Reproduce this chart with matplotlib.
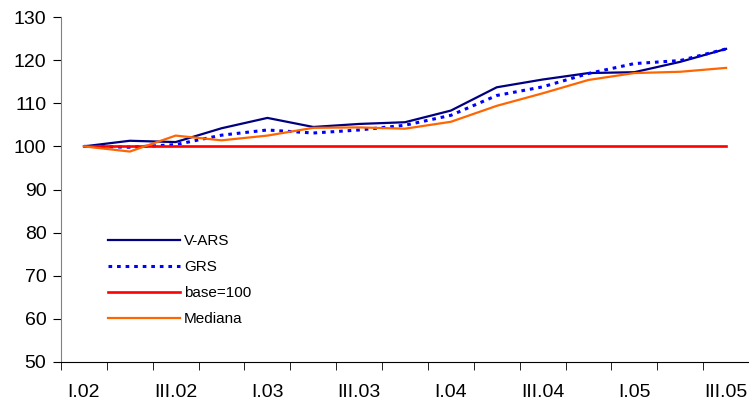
import matplotlib.pyplot as plt
import numpy as np

plt.rcParams['font.family'] = ['Liberation Sans', 'DejaVu Sans']

quarters = ['I.02', 'II.02', 'III.02', 'IV.02', 'I.03', 'II.03', 'III.03', 'IV.03',
            'I.04', 'II.04', 'III.04', 'IV.04', 'I.05', 'II.05', 'III.05']
v_ars = [100, 101.3, 101.0, 104.2, 106.6, 104.5, 105.2, 105.6,
         108.3, 113.7, 115.5, 117.0, 117.2, 119.6, 122.6]
grs = [100, 99.8, 100.4, 102.6, 103.8, 103.1, 103.8, 104.9,
       107.2, 111.8, 113.8, 116.9, 119.2, 119.9, 122.6]
base = [100] * 15
mediana = [100, 98.8, 102.5, 101.4, 102.5, 104.3, 104.4, 104.1,
           105.7, 109.4, 112.3, 115.4, 117.0, 117.3, 118.2]

fig = plt.figure(figsize=(7.49, 4.05), dpi=100)
ax = fig.add_axes([61/749, 43/405, 688/749, 345/405])

x = np.arange(len(quarters))
ax.plot(x, v_ars, color='#000080', lw=1.6, label='V-ARS')
ax.plot(x, grs, color='#0000FF', lw=2.2, ls=(0, (1.2, 1.6)), label='GRS')
ax.plot(x, base, color='#FF0000', lw=1.9, label='base=100')
ax.plot(x, mediana, color='#FF6600', lw=1.6, label='Mediana')

ax.set_xlim(-0.5, len(quarters) - 0.5)
ax.set_ylim(50, 130)
ax.set_yticks(range(50, 131, 10))

ax.set_xticks(x[::2])
ax.set_xticklabels(quarters[::2])
ax.set_xticks(np.arange(-0.5, len(quarters), 1), minor=True)
ax.tick_params(axis='x', which='major', length=0, pad=16, labelsize=14)
ax.tick_params(axis='x', which='minor', length=5.5, direction='out')
ax.tick_params(axis='y', length=5.5, direction='out', labelsize=14, pad=5)

for s in ['top', 'right']:
    ax.spines[s].set_visible(False)
ax.spines['left'].set_color('#808080')
ax.spines['bottom'].set_color('black')

ax.legend(loc='upper left', bbox_to_anchor=(0.048, 0.41), frameon=False,
          handlelength=4.7, handletextpad=0.3, labelspacing=0.78, fontsize=11)

fig.savefig('out.png', dpi=100)
